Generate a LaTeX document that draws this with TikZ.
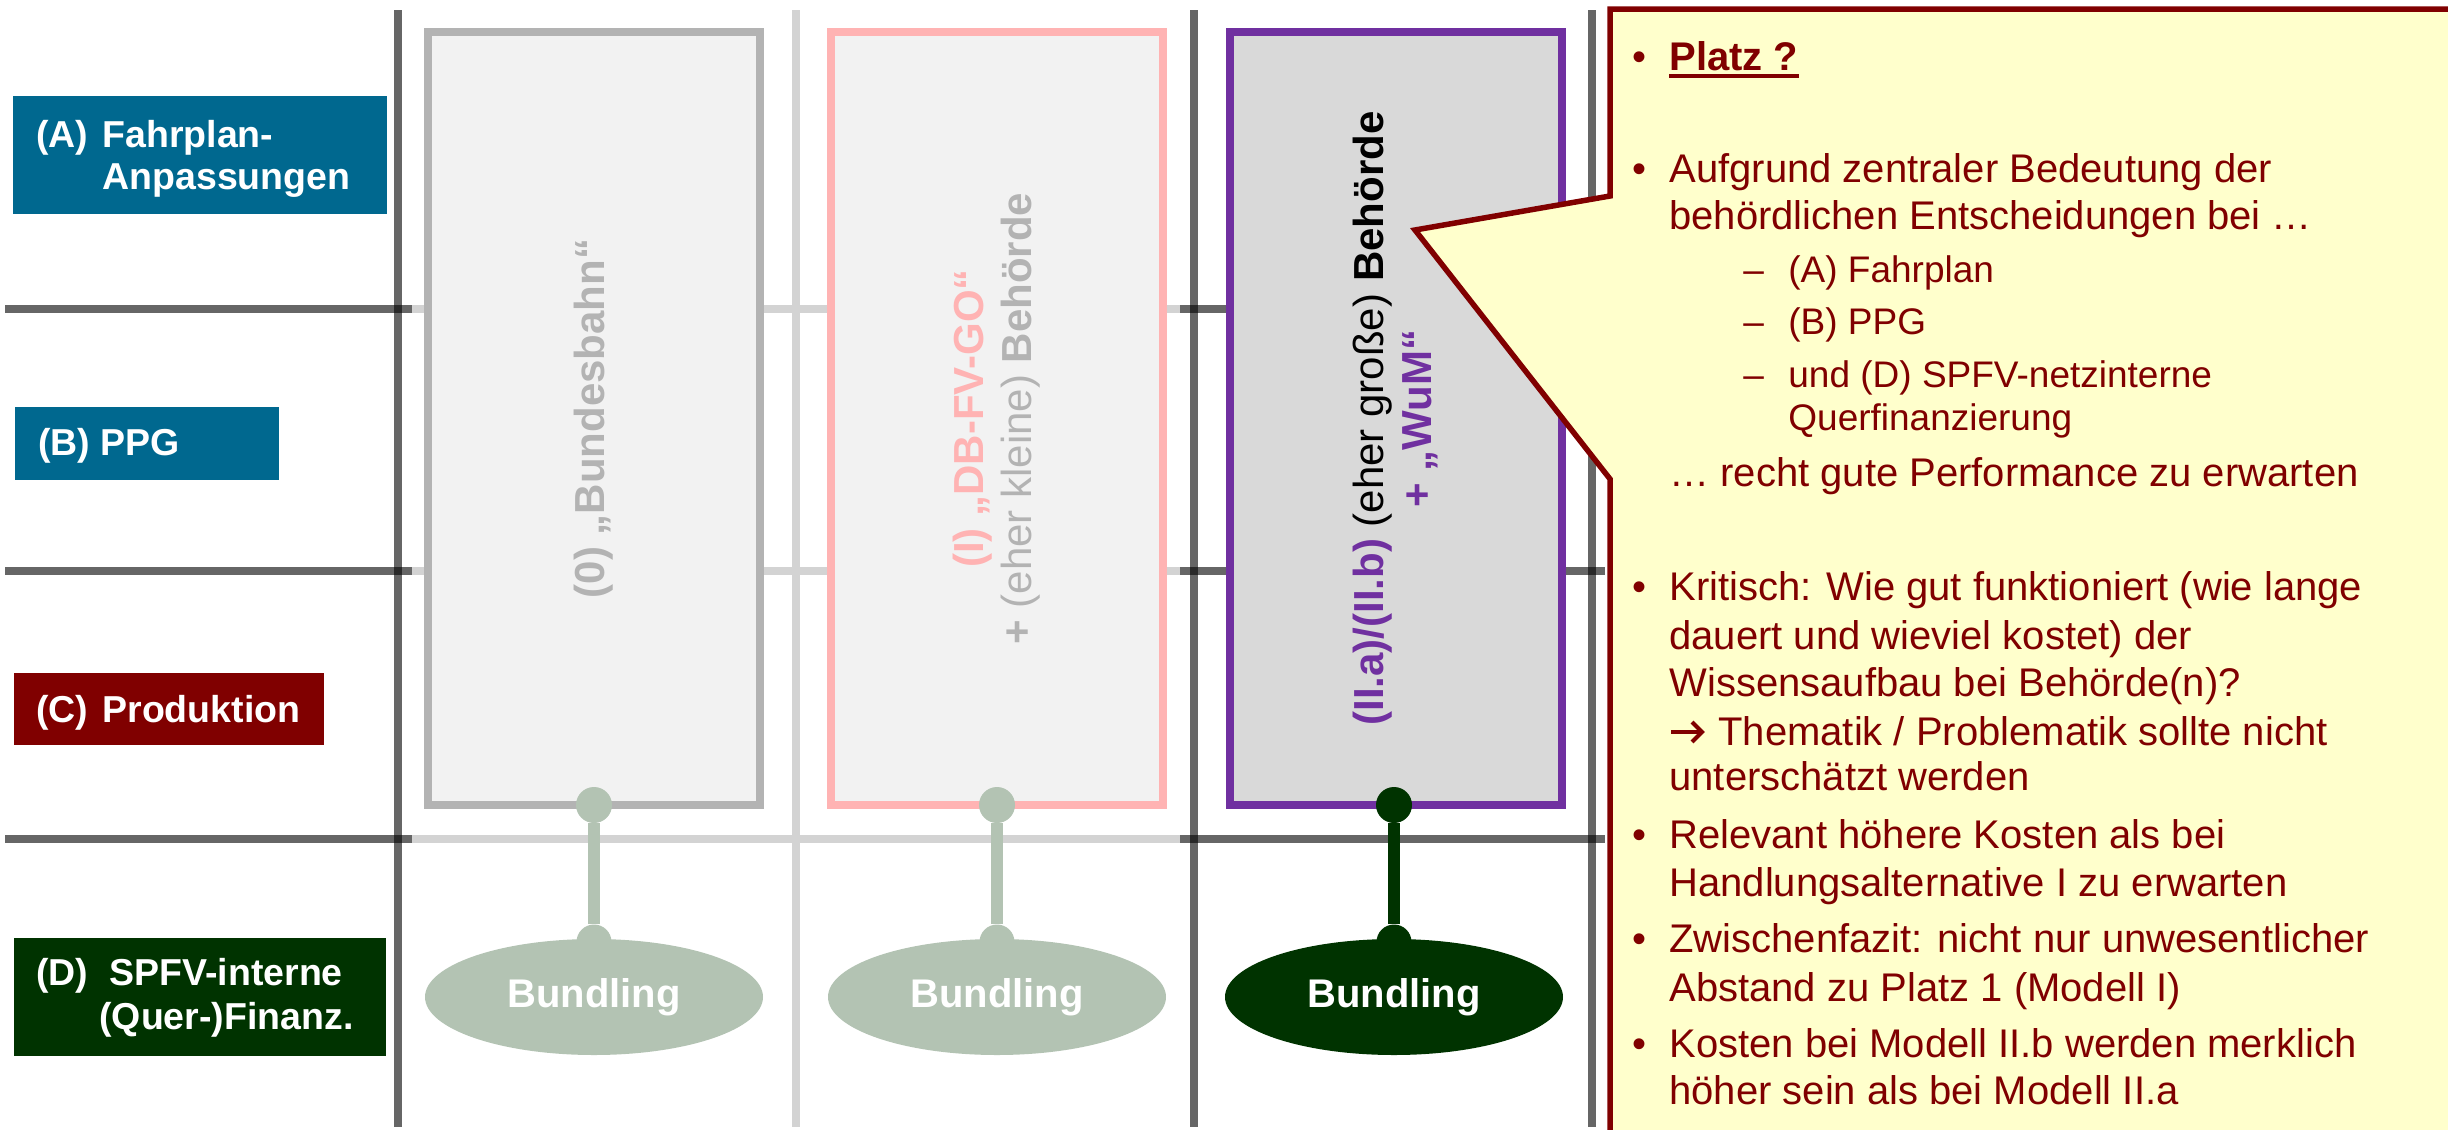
\documentclass[tikz,border=0pt]{standalone}
\usepackage{fontspec}
\setmainfont{Liberation Sans}
\usetikzlibrary{shapes.geometric}
\definecolor{lblblue}{HTML}{00688F}
\definecolor{lblred}{HTML}{800000}
\definecolor{lblgreen}{HTML}{003300}
\definecolor{gridlight}{HTML}{D3D3D3}
\definecolor{boxgray}{HTML}{B3B3B3}
\definecolor{boxpink}{HTML}{FFB3B3}
\definecolor{boxpurple}{HTML}{7030A0}
\definecolor{paper}{HTML}{F2F2F2}
\definecolor{paperdark}{HTML}{D9D9D9}
\definecolor{sage}{HTML}{B3C3B3}
\definecolor{notefill}{HTML}{FFFFCC}
\begin{document}
\begin{tikzpicture}[x=0.5pt, y=-0.5pt,
  darkrule/.style={draw=black, draw opacity=0.6, line width=3.75pt},
  lightrule/.style={draw=gridlight, line width=3.75pt},
  variant/.style={rectangle, line width=4pt, minimum width=386.5pt, minimum height=166pt,
    inner sep=0pt, rotate=90, align=center, font=\fontsize{21pt}{24pt}\selectfont},
  knob/.style={circle, fill=#1, inner sep=0pt, minimum size=18pt},
  pinstem/.style={draw=#1, line width=6pt},
  bundleoval/.style={ellipse, fill=#1, inner sep=0pt, minimum width=169pt, minimum height=58pt,
    text=white, font=\bfseries\fontsize{20pt}{24pt}\selectfont},
  lblbox/.style={rectangle, fill=#1, inner sep=0pt},
  ltext/.style={anchor=base west, inner sep=0pt, text=white, font=\bfseries\fontsize{18.75pt}{22pt}\selectfont},
  ctext/.style={anchor=base west, inner sep=0pt, text=lblred, font=\fontsize{20pt}{24pt}\selectfont},
  csub/.style={anchor=base west, inner sep=0pt, text=lblred, font=\fontsize{18.5pt}{22pt}\selectfont}]
\useasboundingbox (0,0) rectangle (2448,1130);
\clip (0,0) rectangle (2448,1130);

% grid: row separators
\foreach \ry in {309,571,839} {
  \draw[darkrule] (5,\ry) -- (412,\ry);
  \draw[lightrule] (412,\ry) -- (1180,\ry);
  \draw[darkrule] (1180,\ry) -- (1605,\ry);
}
% grid: column separators
\draw[darkrule] (398,10) -- (398,1127);
\draw[lightrule] (796,10) -- (796,1127);
\draw[darkrule] (1194,10) -- (1194,1127);
\draw[darkrule] (1592,10) -- (1592,1127);

% the three organisational variants
\node[variant, draw=boxgray, fill=paper, text=boxgray] (alt0) at (594,418.5)
  {\bfseries (0) „Bundesbahn“};
\node[variant, draw=boxpink, fill=paper, text=boxgray] (alt1) at (997,418.5)
  {{\bfseries\color{boxpink}(I) „DB-FV-GO“}\\{\bfseries +} (eher kleine) {\bfseries Behörde}};
\node[variant, draw=boxpurple, fill=paperdark, text=black] (alt2) at (1396,418.5)
  {{\bfseries\color{boxpurple}(II.a)/(II.b)} (eher große) {\bfseries Behörde}\\{\bfseries\color{boxpurple}+ „WuM“}};

% bundling pins
\foreach \cx/\col/\n in {594/sage/1, 997/sage/2, 1394/lblgreen/3} {
  \node[knob=\col] (kt\n) at (\cx,805) {};
  \node[knob=\col, minimum size=17.5pt] (kb\n) at (\cx,942) {};
  \draw[pinstem=\col] (kt\n) -- (kb\n);
  \node[bundleoval=\col] (oval\n) at (\cx,997) {Bundling};
}

% row labels
\node[lblbox=lblblue, minimum width=187pt, minimum height=59pt] (labA) at (200,155) {};
\node[ltext] (labAtag) at (36,147) {(A)};
\node[ltext] (labAl1) at (102,147) {Fahrplan-};
\node[ltext] (labAl2) at (102,189) {Anpassungen};

\node[lblbox=lblblue, minimum width=132pt, minimum height=36.5pt] (labB) at (147,443.5) {};
\node[ltext] (labBtag) at (38,455) {(B)};
\node[ltext] (labBl1) at (100,455) {PPG};

\node[lblbox=lblred, minimum width=155pt, minimum height=36pt] (labC) at (169,709) {};
\node[ltext] (labCtag) at (36,722) {(C)};
\node[ltext] (labCl1) at (102,722) {Produktion};

\node[lblbox=lblgreen, minimum width=186pt, minimum height=59pt] (labD) at (200,997) {};
\node[ltext] (labDtag) at (36,985) {(D)};
\node[ltext] (labDl1) at (109,985) {SPFV-interne};
\node[ltext] (labDl2) at (99,1029) {(Quer-)Finanz.};

% callout
\draw[fill=notefill, draw=lblred, line width=2.75pt]
  (1610,9) -- (2470,9) -- (2470,1150) -- (1610,1150) -- (1610,479)
  -- (1415,230) -- (1610,196) -- cycle;

\node[ctext] (b1) at (1632,70) {•};
\node[ctext, font=\bfseries\fontsize{20pt}{24pt}\selectfont] (platz) at (1669,70) {Platz ?};
\draw[lblred, line width=2pt] ([yshift=-3pt]platz.base west) -- ([yshift=-3pt]platz.base east);

\node[ctext] (b2) at (1632,182) {•};
\node[ctext] (t2a) at (1669,182) {Aufgrund zentraler Bedeutung der};
\node[ctext] (t2b) at (1669,229) {behördlichen Entscheidungen bei …};
\node[csub] (d1) at (1743,282) {–};
\node[csub] (s1) at (1788,282) {(A) Fahrplan};
\node[csub] (d2) at (1743,334) {–};
\node[csub] (s2) at (1788,334) {(B) PPG};
\node[csub] (d3) at (1743,387) {–};
\node[csub] (s3a) at (1788,387) {und (D) SPFV-netzinterne};
\node[csub] (s3b) at (1788,430) {Querfinanzierung};
\node[ctext] (t2c) at (1669,486) {… recht gute Performance zu erwarten};

\node[ctext] (b3) at (1632,600) {•};
\node[ctext] (t3a) at (1669,600) {Kritisch: Wie gut funktioniert (wie lange};
\node[ctext] (t3b) at (1669,649) {dauert und wieviel kostet) der};
\node[ctext] (t3c) at (1669,696) {Wissensaufbau bei Behörde(n)?};
% arrow glyph in front of the conclusion line
\coordinate (arrS) at (1671,732);
\coordinate (arrE) at (1702,732);
\draw[lblred, line width=2pt] (arrS) -- (arrE);
\draw[lblred, line width=2pt, line join=miter]
  ([xshift=-5pt,yshift=5pt]arrE) -- (arrE) -- ([xshift=-5pt,yshift=-5pt]arrE);
\node[ctext] (t3d) at (1718,745) {Thematik / Problematik sollte nicht};
\node[ctext] (t3e) at (1669,790) {unterschätzt werden};

\node[ctext] (b4) at (1632,848) {•};
\node[ctext] (t4a) at (1669,848) {Relevant höhere Kosten als bei};
\node[ctext] (t4b) at (1669,896) {Handlungsalternative I zu erwarten};

\node[ctext] (b5) at (1632,952) {•};
\node[ctext] (t5a) at (1669,952) {Zwischenfazit: nicht nur unwesentlicher};
\node[ctext] (t5b) at (1669,1001) {Abstand zu Platz 1 (Modell I)};

\node[ctext] (b6) at (1632,1057) {•};
\node[ctext] (t6a) at (1669,1057) {Kosten bei Modell II.b werden merklich};
\node[ctext] (t6b) at (1669,1104) {höher sein als bei Modell II.a};
\end{tikzpicture}
\end{document}
